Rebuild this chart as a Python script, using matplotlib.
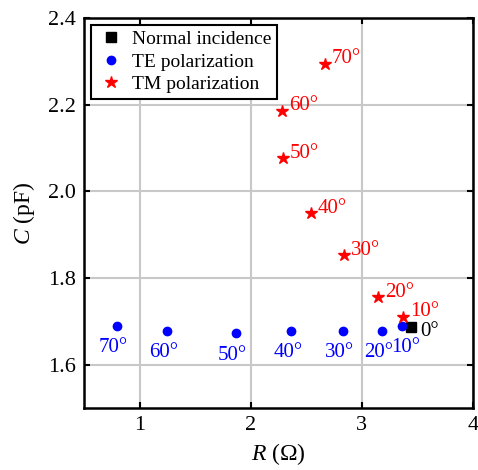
import matplotlib
matplotlib.use("Agg")
import matplotlib.pyplot as plt

plt.rcParams["font.family"] = ["Liberation Serif", "DejaVu Serif"]
plt.rcParams["mathtext.fontset"] = "custom"
plt.rcParams["mathtext.rm"] = "Liberation Serif"
plt.rcParams["mathtext.it"] = "Liberation Serif:italic"

# equivalent circuit values vs incidence angle
normal_r = [3.44]
normal_c = [1.687]

te_angles = ["10°", "20°", "30°", "40°", "50°", "60°", "70°"]
te_r = [3.36, 3.18, 2.83, 2.36, 1.865, 1.243, 0.793]
te_c = [1.690, 1.678, 1.678, 1.678, 1.673, 1.678, 1.690]

tm_angles = ["10°", "20°", "30°", "40°", "50°", "60°", "70°"]
tm_r = [3.37, 3.144, 2.838, 2.54, 2.288, 2.279, 2.667]
tm_c = [1.710, 1.756, 1.853, 1.949, 2.076, 2.186, 2.294]

x_ticks = [1, 2, 3, 4]
y_ticks = [1.6, 1.8, 2.0, 2.2, 2.4]

fig = plt.figure(figsize=(4.78, 4.70), dpi=100)
ax = fig.add_axes([0.1757, 0.132, 0.8138, 0.8297])

ax.plot(normal_r, normal_c, "s", color="black", ms=6.5, ls="none",
        label="Normal incidence", zorder=3)
ax.plot(te_r, te_c, "o", color="blue", ms=6, ls="none",
        label="TE polarization", zorder=3)
ax.plot(tm_r, tm_c, "*", color="red", ms=9, ls="none",
        label="TM polarization", zorder=3)

for r, c, s in zip(te_r, te_c, te_angles):
    dx = 4 if s == "10°" else -3
    ax.annotate(s, (r, c), xytext=(dx, -22), textcoords="offset pixels",
                ha="center", va="center", color="blue", fontsize=15)
for r, c, s in zip(tm_r, tm_c, tm_angles):
    ax.annotate(s, (r, c), xytext=(7, 5), textcoords="offset pixels",
                ha="left", va="center", color="red", fontsize=15)
ax.annotate("0°", (normal_r[0], normal_c[0]), xytext=(19, -5),
            textcoords="offset pixels", ha="center", va="center",
            color="black", fontsize=15)

ax.set_xlim(0.5, 4)
ax.set_ylim(1.5, 2.4)
ax.set_xticks(x_ticks)
ax.set_yticks(y_ticks)
ax.set_yticklabels([f"{v:.1f}" for v in y_ticks])
ax.grid(True, color="#c8c8c8", lw=1.5)
ax.set_axisbelow(True)
ax.tick_params(direction="in", length=4, width=1.5, labelsize=16,
               top=True, right=True, pad=6)
for sp in ax.spines.values():
    sp.set_linewidth(1.8)

ax.set_xlabel("$R$ (Ω)", fontsize=17, labelpad=4)
ax.set_ylabel("$C$ (pF)", fontsize=17, labelpad=8)

leg = ax.legend(loc="upper left", fontsize=14, frameon=True, fancybox=False,
                edgecolor="black", framealpha=1, handletextpad=0.3,
                borderpad=0.3, labelspacing=0.25, borderaxespad=0.35,
                handlelength=1.5)
leg.get_frame().set_linewidth(1.5)

fig.savefig("out.png", dpi=100)
